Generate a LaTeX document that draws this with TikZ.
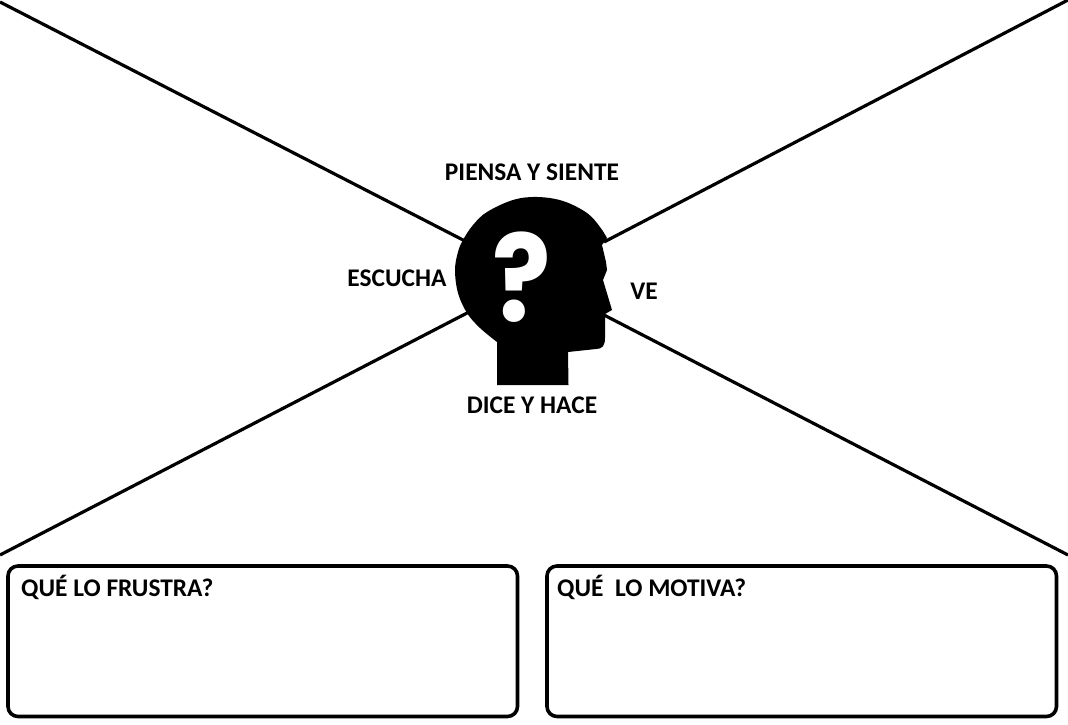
\documentclass[tikz,border=0pt]{standalone}
\usepackage{fontspec}
\setmainfont{Carlito}
\newfontfamily\qfont{Poppins}
\tikzset{
  ray/.style={draw=black,line width=3.2pt},
  lbl/.style={font=\fontsize{25.4}{30}\selectfont\bfseries,text=black,inner sep=0pt},
  card/.style={draw=black,line width=3.6pt,rounded corners=10pt,minimum width=509.5pt,minimum height=150.5pt,inner sep=0pt,outer sep=0pt,anchor=north west},
  cardtitle/.style={lbl,anchor=base west},
}
\begin{document}
\begin{tikzpicture}[x=1pt,y=-1pt]
\useasboundingbox (0,0) rectangle (1068,725);
\fill[white] (0,0) rectangle (1068,725);
\coordinate (tlc) at (0,2);
\coordinate (trc) at (1068,0);
\coordinate (blc) at (0,555);
\coordinate (brc) at (1068,555);
\coordinate (htl) at (465,241);
\coordinate (htr) at (604,242);
\coordinate (hbl) at (469,312);
\coordinate (hbr) at (604,315);
\draw[ray] (tlc) -- (htl);
\draw[ray] (trc) -- (htr);
\draw[ray] (blc) -- (hbl);
\draw[ray] (brc) -- (hbr);
% head
\fill[black] (497,385) -- (497,342)
  -- plot[smooth,tension=0.6] coordinates {(497,342) (480,328) (467,313) (458,293) (455,270) (458,252) (463,240) (473,225) (487,212) (513,200) (537,197) (563,201) (587,213) (600,227) (607,238)}
  -- (602,245) -- (606,262) -- (607,270) -- (603,280)
  -- (612,310) -- (605,314) -- (605,338)
  .. controls (605,346) and (602,349) .. (596,349)
  -- (568,352) -- (568.5,385) -- cycle;
\node[font=\qfont\fontsize{121}{121}\selectfont\bfseries,text=white,inner sep=0pt,xscale=0.9,transform shape] (qm) at (522,277) {?};
\node[lbl] (piensa) at (532,172) {PIENSA Y SIENTE};
\node[lbl] (escucha) at (397,278) {ESCUCHA};
\node[lbl] (ve) at (644,291) {VE};
\node[lbl] (dice) at (532,405) {DICE Y HACE};
\node[card] (frustra) at (8,566) {};
\node[card] (motiva) at (547,566) {};
\node[cardtitle] (tf) at (21,596) {QUÉ LO FRUSTRA?};
\node[cardtitle] (tm) at (557,596) {QUÉ\ \ LO MOTIVA?};
\end{tikzpicture}
\end{document}
